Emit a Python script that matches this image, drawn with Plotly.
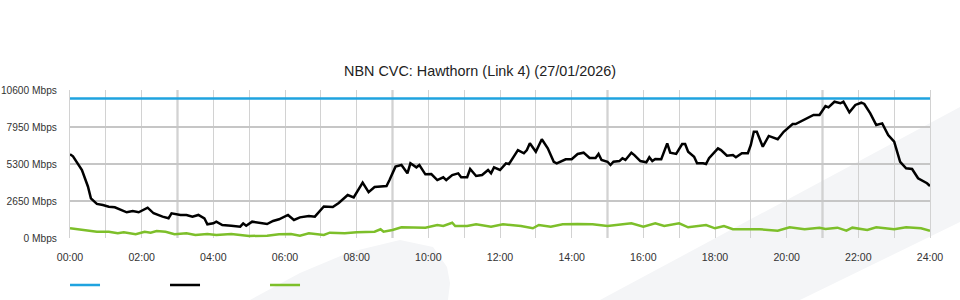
import plotly.graph_objects as go

# ---- data (minutes since midnight, Mbps) ----
capacity_t = [0, 1440]
capacity_v = [10000, 10000]

down_t = [0, 5, 20, 30, 35, 45, 55, 65, 75, 85, 95, 105, 115, 130, 140, 155, 165, 170,
          185, 195, 205, 215, 225, 230, 240, 245, 255, 270, 285, 290, 295, 305, 320, 330,
          340, 350, 365, 375, 385, 400, 410, 415, 425, 440, 450, 465, 475, 490, 500, 510,
          530, 535, 545, 555, 565, 570, 580, 585, 595, 605, 615, 625, 630, 640, 650, 655,
          665, 670, 675, 680, 690, 700, 705, 710, 720, 730, 735, 740, 750, 760, 765, 770,
          780, 790, 800, 810, 815, 830, 840, 850, 860, 870, 880, 885, 890, 900, 905, 910,
          920, 925, 930, 940, 945, 955, 965, 970, 975, 980, 990, 1000, 1005, 1015, 1025,
          1030, 1035, 1045, 1050, 1060, 1065, 1070, 1085, 1090, 1100, 1110, 1115, 1125,
          1135, 1140, 1145, 1150, 1160, 1170, 1175, 1185, 1195, 1210, 1215, 1230, 1245,
          1255, 1260, 1265, 1270, 1280, 1290, 1295, 1305, 1315, 1325, 1330, 1340, 1350,
          1360, 1370, 1380, 1390, 1400, 1410, 1420, 1425, 1435, 1440]
down_v = [6000, 5850, 4870, 3690, 2840, 2440, 2360, 2240, 2200, 2000, 1840, 1930, 1840, 2170,
          1770, 1530, 1410, 1770, 1650, 1650, 1530, 1650, 1410, 980, 1050, 1170, 930, 880,
          810, 1050, 880, 1170, 1050, 1000, 1220, 1340, 1650, 1290, 1480, 1580, 1530, 1770,
          2260, 2220, 2510, 3080, 2910, 3970, 3280, 3650, 3720, 4150, 5110, 5230, 4630, 5350,
          5060, 5230, 4560, 4580, 4150, 4350, 4150, 4510, 4630, 4350, 4350, 4940, 4680, 4440,
          4510, 4870, 4630, 5060, 4870, 5350, 5300, 5640, 6300, 6070, 6300, 6780, 6180, 7070,
          6420, 5460, 5350, 5640, 5640, 6020, 6110, 5730, 5730, 6020, 5590, 5460, 5230, 5460,
          5510, 5710, 5590, 6110, 5940, 5510, 5420, 5780, 5510, 5660, 5640, 6780, 6110, 6020,
          6730, 6730, 6180, 5820, 5350, 5350, 5300, 5710, 6420, 6300, 5890, 5940, 5780, 6070,
          6070, 6660, 7610, 7610, 6540, 7310, 7210, 7070, 7610, 8160, 8160, 8500, 8810, 8810,
          9170, 9450, 9360, 9760, 9650, 9760, 9000, 9530, 9690, 9600, 8930, 8090, 8210, 7380,
          6900, 5460, 4990, 4940, 4280, 4150, 3920, 3720]

up_t = [0, 10, 30, 45, 65, 80, 90, 110, 125, 135, 145, 160, 175, 195, 210, 230, 245, 270,
        285, 300, 330, 350, 370, 385, 400, 425, 435, 460, 480, 510, 520, 525, 540, 555, 595,
        615, 625, 640, 645, 665, 680, 705, 725, 755, 775, 785, 805, 825, 850, 875, 900, 940,
        960, 980, 995, 1020, 1035, 1050, 1065, 1080, 1095, 1110, 1145, 1155, 1185, 1205,
        1230, 1255, 1265, 1285, 1300, 1310, 1335, 1350, 1380, 1400, 1425, 1440]
up_v = [695, 645, 520, 450, 450, 335, 410, 265, 450, 380, 500, 450, 265, 335, 215, 285, 215,
        285, 215, 145, 165, 265, 285, 165, 335, 215, 380, 335, 410, 450, 625, 450, 575, 765,
        740, 930, 860, 1095, 860, 860, 980, 810, 980, 860, 695, 930, 810, 980, 1000, 980, 860,
        1050, 810, 1050, 860, 1050, 765, 860, 930, 695, 860, 625, 645, 625, 525, 765, 625, 740,
        645, 740, 525, 740, 575, 765, 625, 765, 695, 525]

x_tick_hours = list(range(0, 25, 2))
x_tick_labels = [f"{h:02d}:00" for h in x_tick_hours]
y_tick_vals = [0, 2650, 5300, 7950, 10600]
y_tick_labels = [f"{v} Mbps" for v in y_tick_vals]
title_text = "NBN CVC: Hawthorn (Link 4) (27/01/2026)"

BLUE = "#1fa3df"
BLACK = "#000000"
GREEN = "#7dbf2a"

def hrs(ts):
    return [t / 60 for t in ts]

fig = go.Figure()
fig.add_trace(go.Scatter(x=hrs(capacity_t), y=capacity_v, mode="lines", name="",
                         line=dict(color=BLUE, width=2.5)))
fig.add_trace(go.Scatter(x=hrs(down_t), y=down_v, mode="lines", name="",
                         line=dict(color=BLACK, width=2.5)))
fig.add_trace(go.Scatter(x=hrs(up_t), y=up_v, mode="lines", name="",
                         line=dict(color=GREEN, width=2.5)))

# plot-area pixel geometry (for background decoration only)
L, R, T, B = 70, 930, 90, 238
def px(x):
    return (x - L) / (R - L)
def py(y):
    return (B - y) / (B - T)

shapes = []
# background swoosh decoration
hump = [(250, 300), (300, 273), (350, 252), (400, 240), (433, 247), (447, 267), (450, 283), (448, 300)]
path = "M " + " L ".join(f"{px(a):.4f},{py(b):.4f}" for a, b in hump) + " Z"
shapes.append(dict(type="path", path=path, xref="paper", yref="paper",
                   fillcolor="#f4f5f7", line=dict(width=0), layer="below"))
band = [(600, 300), (960, 107), (960, 222), (800, 300)]
path = "M " + " L ".join(f"{px(a):.4f},{py(b):.4f}" for a, b in band) + " Z"
shapes.append(dict(type="path", path=path, xref="paper", yref="paper",
                   fillcolor="#f4f5f7", line=dict(width=0), layer="below"))
# heavier vertical grid lines
for h in [3, 9, 15, 21]:
    shapes.append(dict(type="line", x0=h, x1=h, y0=0, y1=1, xref="x", yref="paper",
                       line=dict(color="#c4c4c4", width=2), layer="below"))

fig.update_layout(
    width=960, height=300,
    margin=dict(l=L, r=960 - R, t=T, b=300 - B, autoexpand=False),
    paper_bgcolor="white", plot_bgcolor="rgba(0,0,0,0)",
    font=dict(family="Liberation Sans, Arial, sans-serif", size=11, color="#333333"),
    title=dict(text=title_text, x=0.5, xanchor="center", y=1 - 71 / 300, yanchor="middle",
               font=dict(size=14.4, color="#222222")),
    showlegend=True,
    legend=dict(orientation="h", x=-0.0058, xanchor="left", y=-0.318, yanchor="middle",
                entrywidth=55, entrywidthmode="pixels", bgcolor="rgba(0,0,0,0)",
                font=dict(size=11)),
    shapes=shapes,
    xaxis=dict(range=[0, 24], tickvals=x_tick_hours, ticktext=x_tick_labels,
               showgrid=True, gridcolor="#d2d2d2", gridwidth=1,
               minor=dict(dtick=1, tick0=0, showgrid=True, gridcolor="#d2d2d2", gridwidth=1),
               zeroline=False, showline=False, ticks="", ticklabelstandoff=11,
               automargin=False, tickfont=dict(size=10.6, color="#333333"), fixedrange=True),
    yaxis=dict(range=[0, 10600], tickvals=y_tick_vals, ticktext=y_tick_labels,
               showgrid=True, gridcolor="#c6c6c6", gridwidth=2,
               zeroline=False, showline=True, mirror=True, linecolor="#d2d2d2", linewidth=1,
               ticks="", ticklabelstandoff=10, automargin=False,
               tickfont=dict(size=10.2, color="#333333"), fixedrange=True),
)

fig.write_html("out.html")
